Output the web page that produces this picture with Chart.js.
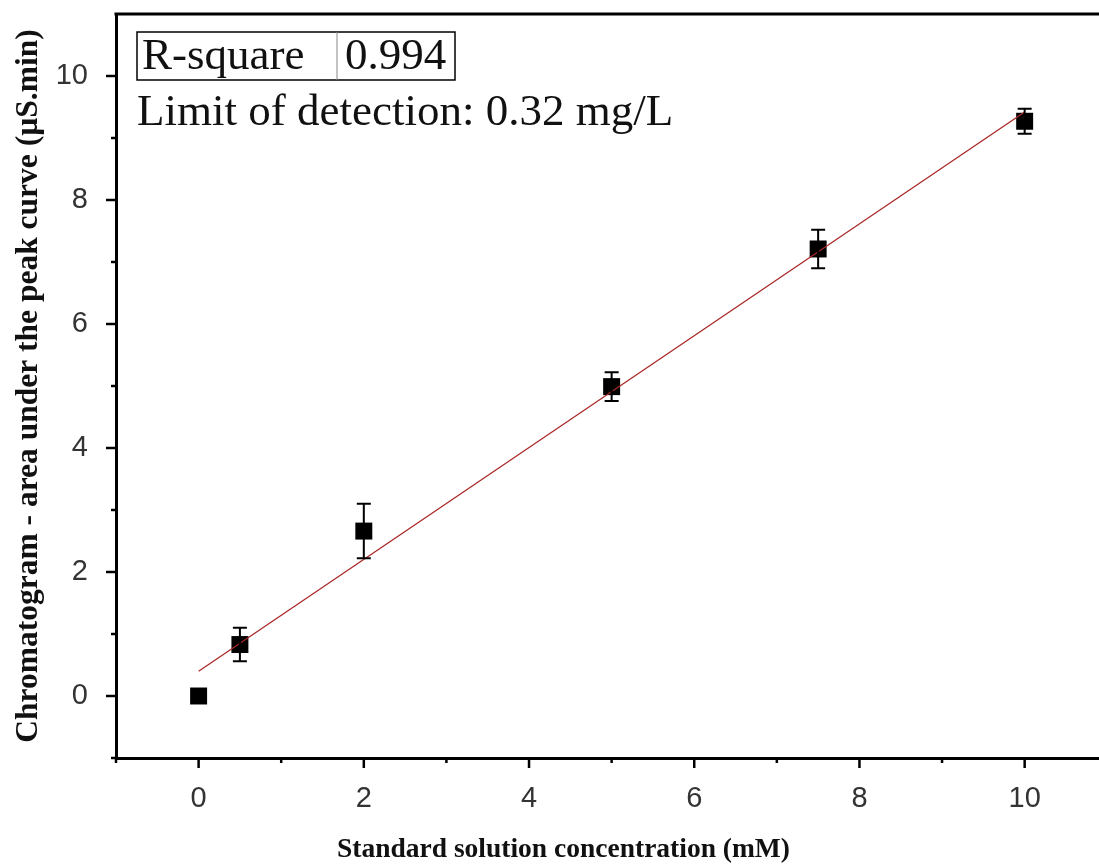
<!DOCTYPE html>
<html>
<head>
<meta charset="utf-8">
<title>Calibration curve</title>
<script src="https://cdn.jsdelivr.net/npm/chart.js@4.4.1/dist/chart.umd.min.js"></script>
<style>
  html, body { margin: 0; padding: 0; background: #fff; }
  #wrap { width: 1099px; height: 866px; position: relative; }
</style>
</head>
<body>
<div id="wrap"><canvas id="calibChart"></canvas></div>
<script>
// Calibration curve

const concentrations = [0, 0.5, 2, 5, 7.5, 10];
const peakAreas = [0, 0.83, 2.66, 4.99, 7.21, 9.27];
const errorBars = [0, 0.27, 0.44, 0.23, 0.31, 0.20];

// linear fit (end points)
const fitX = [0, 10];
const fitY = [0.40, 9.42];

const xMajorTicks = [0, 2, 4, 6, 8, 10];
const xMinorTicks = [-1, 1, 3, 5, 7, 9];
const yMajorTicks = [0, 2, 4, 6, 8, 10];
const yMinorTicks = [-1, 1, 3, 5, 7, 9];

const rSquareLabel = 'R-square';
const rSquareValue = '0.994';
const detectionText = 'Limit of detection: 0.32 mg/L';
const xTitle = 'Standard solution concentration (mM)';
const yTitle = 'Chromatogram - area under the peak curve (µS.min)';

const serif = "'Liberation Serif', 'Times New Roman', serif";
const sans = "'Liberation Sans', Arial, sans-serif";

// Error bars drawn through the scales
const errorBarPlugin = {
    id: 'errorBars',
    afterDatasetsDraw(chart) {
        const { ctx, scales: { x, y } } = chart;
        ctx.save();
        ctx.strokeStyle = '#000';
        ctx.lineWidth = 2;
        concentrations.forEach((c, i) => {
            if (!errorBars[i]) return;
            const px = x.getPixelForValue(c);
            const top = y.getPixelForValue(peakAreas[i] + errorBars[i]);
            const bottom = y.getPixelForValue(peakAreas[i] - errorBars[i]);
            ctx.beginPath();
            ctx.moveTo(px, top); ctx.lineTo(px, bottom);
            ctx.moveTo(px - 7, top); ctx.lineTo(px + 7, top);
            ctx.moveTo(px - 7, bottom); ctx.lineTo(px + 7, bottom);
            ctx.stroke();
        });
        ctx.restore();
    }
};

// Frame top line, outward ticks, annotation box and x title
const framePlugin = {
    id: 'frame',
    afterDraw(chart) {
        const { ctx, chartArea, scales: { x, y } } = chart;
        ctx.save();
        ctx.strokeStyle = '#000';

        // top border
        ctx.lineWidth = 3;
        ctx.beginPath();
        ctx.moveTo(chartArea.left - 1.5, chartArea.top);
        ctx.lineTo(chartArea.right, chartArea.top);
        ctx.stroke();

        // ticks
        ctx.lineWidth = 2.5;
        const xTick = (v, len) => {
            const px = x.getPixelForValue(v);
            ctx.beginPath();
            ctx.moveTo(px, chartArea.bottom);
            ctx.lineTo(px, chartArea.bottom + len);
            ctx.stroke();
        };
        const yTick = (v, len) => {
            const py = y.getPixelForValue(v);
            ctx.beginPath();
            ctx.moveTo(chartArea.left, py);
            ctx.lineTo(chartArea.left - len, py);
            ctx.stroke();
        };
        xMajorTicks.forEach(v => xTick(v, 10));
        xMinorTicks.forEach(v => xTick(v, 5));
        yMajorTicks.forEach(v => yTick(v, 10));
        yMinorTicks.forEach(v => yTick(v, 5));

        // R-square box
        const boxL = chartArea.left + 21, boxT = chartArea.top + 18;
        const boxW = 318, boxH = 48, split = 200;
        ctx.lineWidth = 1.5;
        ctx.strokeRect(boxL, boxT, boxW, boxH);
        ctx.lineWidth = 1;
        ctx.strokeStyle = '#888';
        ctx.beginPath();
        ctx.moveTo(boxL + split, boxT);
        ctx.lineTo(boxL + split, boxT + boxH);
        ctx.stroke();

        ctx.fillStyle = '#111';
        ctx.font = `45px ${serif}`;
        ctx.textBaseline = 'alphabetic';
        ctx.textAlign = 'left';
        ctx.fillText(rSquareLabel, boxL + 5, boxT + 37);
        ctx.fillText(rSquareValue, boxL + split + 8, boxT + 37);
        ctx.fillText(detectionText, boxL, boxT + 93);

        // x axis title
        ctx.font = `bold 27.5px ${serif}`;
        ctx.fillStyle = '#111';
        ctx.fillText(xTitle, 337, 857);
        ctx.restore();
    }
};

document.addEventListener('DOMContentLoaded', function() {
    const ctx = document.getElementById('calibChart').getContext('2d');

    new Chart(ctx, {
        type: 'scatter',
        data: {
            datasets: [{
                label: 'Linear fit',
                data: fitX.map((v, i) => ({ x: v, y: fitY[i] })),
                showLine: true,
                borderColor: 'rgb(170, 40, 40)',
                borderWidth: 1.3,
                pointRadius: 0,
                fill: false
            }, {
                label: 'Peak area',
                data: concentrations.map((v, i) => ({ x: v, y: peakAreas[i] })),
                pointStyle: 'rect',
                pointRadius: 12,
                backgroundColor: '#000',
                borderColor: '#000',
                borderWidth: 0
            }]
        },
        options: {
            responsive: true,
            maintainAspectRatio: false,
            animation: false,
            layout: { autoPadding: false, padding: { top: 14, right: 0, left: 0, bottom: 0 } },
            plugins: {
                legend: { display: false },
                tooltip: { enabled: false }
            },
            scales: {
                x: {
                    type: 'linear',
                    min: -1,
                    max: 10.9,
                    afterBuildTicks: scale => { scale.ticks = xMajorTicks.map(v => ({ value: v })); },
                    afterFit: scale => {
                        scale.height = 108;
                        scale.paddingLeft = 0;
                        scale.paddingRight = 0;
                    },
                    grid: { display: false, drawTicks: false },
                    border: { display: true, color: '#000', width: 3 },
                    ticks: {
                        padding: 24,
                        color: '#333',
                        font: { family: sans, size: 29 }
                    }
                },
                y: {
                    type: 'linear',
                    min: -1,
                    max: 11,
                    afterBuildTicks: scale => { scale.ticks = yMajorTicks.map(v => ({ value: v })); },
                    afterFit: scale => {
                        scale.width = 116;
                        scale.paddingTop = 0;
                        scale.paddingBottom = 0;
                    },
                    grid: { display: false, drawTicks: false },
                    border: { display: true, color: '#000', width: 3 },
                    ticks: {
                        padding: 28,
                        color: '#333',
                        font: { family: sans, size: 29 }
                    },
                    title: {
                        display: true,
                        text: yTitle,
                        color: '#111',
                        padding: { top: 10, bottom: 0 },
                        font: { family: serif, size: 31.5, weight: 'bold' }
                    }
                }
            }
        },
        plugins: [errorBarPlugin, framePlugin]
    });
});
</script>
</body>
</html>
